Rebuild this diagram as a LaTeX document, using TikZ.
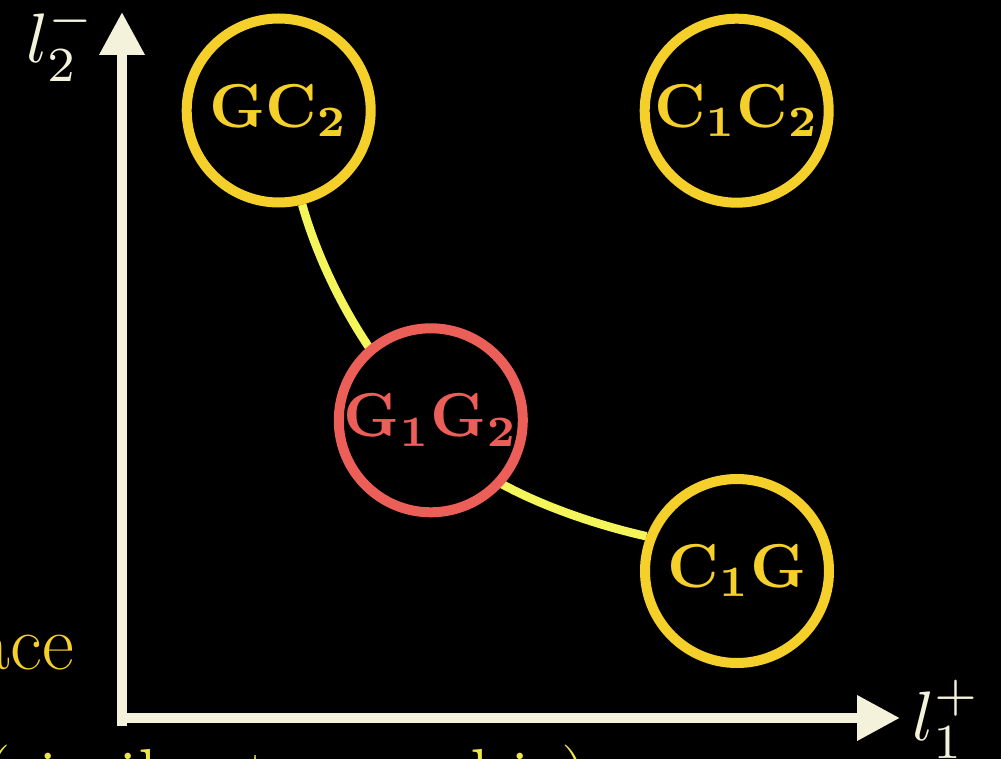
\documentclass[tikz,border=0pt]{standalone}
\usepackage{graphicx}
\usetikzlibrary{arrows.meta}
\definecolor{cream}{HTML}{F5F2DC}
\definecolor{gold}{HTML}{F5D02A}
\definecolor{redc}{HTML}{EC5E58}
\definecolor{lemon}{HTML}{F3F55A}
\definecolor{textyel}{HTML}{EEE64A}
\pgfdeclarelayer{back}
\pgfdeclarelayer{mid}
\pgfsetlayers{back,mid,main}
\newcommand{\stlabel}[1]{\scalebox{6.2}{$\mathbf{#1}$}}
\newcommand{\axlab}[1]{\scalebox{7}{$#1$}}
\tikzset{
  state/.style={circle, draw=gold, fill=black, line width=10pt, minimum size=184pt, inner sep=0pt, text=gold},
  hot/.style={state, draw=redc, text=redc},
  axis/.style={draw=cream, line width=10pt, -{Triangle[length=43pt,width=43pt]}},
  link/.style={draw=lemon, line width=8.5pt},
  axlabel/.style={anchor=base west, inner sep=0pt, text=cream},
}
\begin{document}
\begin{tikzpicture}[x=1pt,y=-1pt]
\useasboundingbox (0,0) rectangle (1001,759);
\begin{pgfonlayer}{back}
\fill[black] (0,0) rectangle (1001,759);
\end{pgfonlayer}
% axes
\coordinate (O) at (122,726);
\coordinate (ytip) at (122,12);
\coordinate (Oh) at (117,718);
\coordinate (xtip) at (900,718);
\draw[axis] (O) -- (ytip);
\draw[axis] (Oh) -- (xtip);
\node[axlabel] (ylab) at (26,63) {\axlab{l_2^-}};
\node[axlabel] (xlab) at (912,740) {\axlab{l_1^+}};
% states
\node[state] (GC2) at (278.7,110.5) {\stlabel{GC_2}};
\node[state] (C1C2) at (736.7,110.7) {\stlabel{C_1C_2}};
\node[hot] (G1G2) at (430.8,420.3) {\stlabel{G_1G_2}};
\node[state] (C1G) at (737,571) {\stlabel{C_1G}};
\begin{pgfonlayer}{mid}
\draw[link] (GC2.-76) .. controls (325,285) and (375,370) .. (G1G2.center);
\draw[link] (G1G2.center) .. controls (455,475) and (565,518) .. (C1G.159);
\end{pgfonlayer}
% texts
\node[anchor=base east, inner sep=0pt, text=gold, font=\fontsize{78}{90}\selectfont] (t1) at (74,669) {space};
\node[anchor=base west, inner sep=0pt, text=textyel, font=\fontsize{78}{90}\selectfont] (t2) at (-17,803) {(similar to graphic)};
\end{tikzpicture}
\end{document}
